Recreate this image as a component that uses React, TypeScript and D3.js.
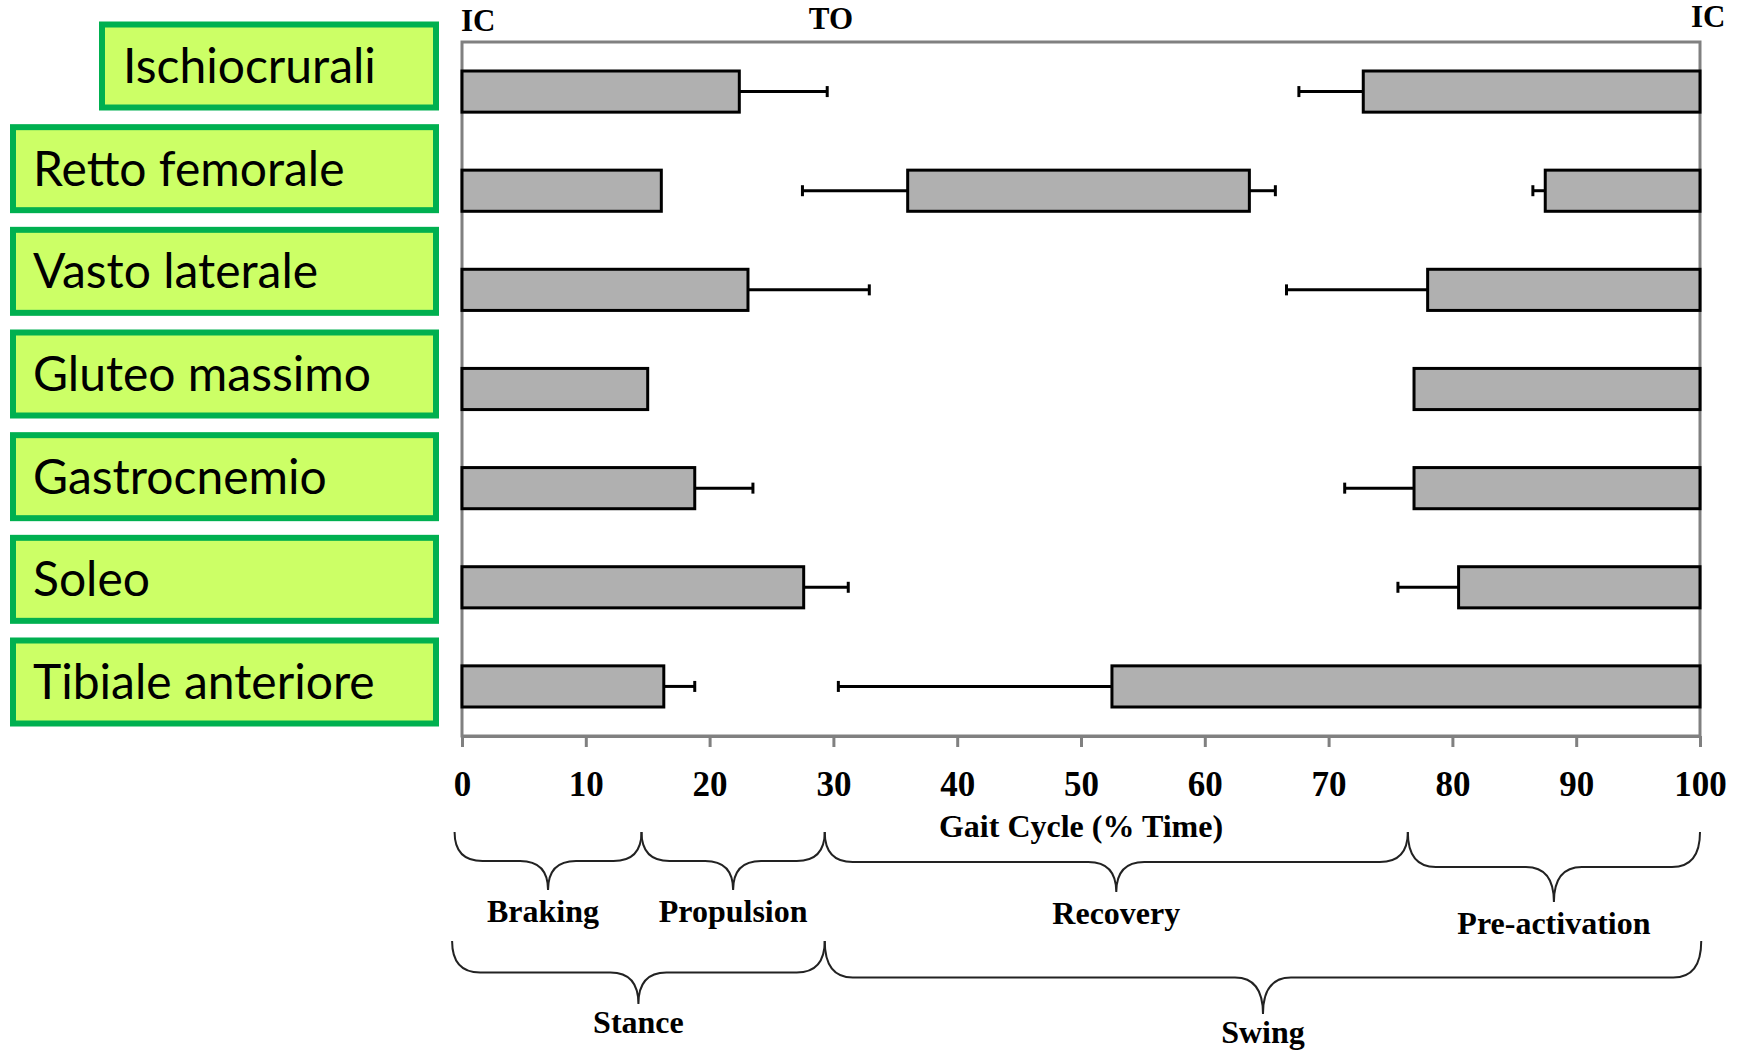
import React, { useEffect, useRef } from "react";
import * as d3 from "d3";

// muscles, top to bottom
const muscles = [
  "Ischiocrurali",
  "Retto femorale",
  "Vasto laterale",
  "Gluteo massimo",
  "Gastrocnemio",
  "Soleo",
  "Tibiale anteriore",
];

// stance burst: from IC (0%) to offset, SD drawn to the right
const earlyOff = [22.4, 16.1, 23.1, 15.0, 18.8, 27.6, 16.3];
const earlyOffSD = [7.1, 0, 9.8, 0, 4.7, 3.6, 2.5];

// late swing burst: from onset to next IC (100%), SD drawn to the left
const lateOn = [72.8, 87.5, 78.0, 76.9, 76.9, 80.5, 52.5];
const lateOnSD = [5.2, 1.0, 11.4, 0, 5.6, 4.9, 22.1];

// extra mid-swing burst of the rectus femoris
const midMuscle = "Retto femorale";
const midOn = 36.0;
const midOnSD = 8.5;
const midOff = 63.6;
const midOffSD = 2.1;

const xTicks = [0, 10, 20, 30, 40, 50, 60, 70, 80, 90, 100];
const toeOff = 29.8;

// braces under the axis
const phaseNames = ["Braking", "Propulsion", "Recovery", "Pre-activation"];
const phaseBounds = [-0.6, 14.5, 29.3, 76.4, 100];
const cycleNames = ["Stance", "Swing"];
const cycleBounds = [-0.8, 29.3, 100.1];

const W = 1742;
const H = 1051;

const serif = "'Liberation Serif', 'Times New Roman', serif";
const GRAY = "#808080";

const App = () => {
  const svgRef = useRef<SVGSVGElement | null>(null);

  useEffect(() => {
    const svg = d3.select(svgRef.current);
    svg.selectAll("*").remove();

    const top = 42;
    const bottom = 736;

    const x = d3.scaleLinear().domain([0, 100]).range([462, 1700]);
    const y = d3
      .scaleBand<string>()
      .domain(muscles)
      .range([top, bottom])
      .paddingInner(0.585)
      .paddingOuter(0.2925);

    // ---- labels in green boxes on the left
    const boxY = d3.scalePoint<string>().domain(muscles).range([66, 682]);
    const boxH = 83;
    const boxRight = 436;
    const boxes = svg
      .append("g")
      .selectAll("g")
      .data(muscles)
      .enter()
      .append("g");

    boxes
      .append("rect")
      .attr("x", (d, i) => (i === 0 ? 102 : 13))
      .attr("y", (d) => boxY(d)! - boxH / 2)
      .attr("width", (d, i) => boxRight - (i === 0 ? 102 : 13))
      .attr("height", boxH)
      .attr("fill", "#ccff66")
      .attr("stroke", "#00b050")
      .attr("stroke-width", 6);

    boxes
      .append("text")
      .attr("x", (d, i) => (i === 0 ? 123 : 33))
      .attr("y", (d) => boxY(d)! + 17)
      .attr("font-family", "Lato, 'Open Sans', sans-serif")
      .attr("font-size", 48)
      .attr("fill", "#000")
      .text((d) => d);

    // ---- frame
    svg
      .append("rect")
      .attr("x", x(0))
      .attr("y", top)
      .attr("width", x(100) - x(0))
      .attr("height", bottom - top)
      .attr("fill", "none")
      .attr("stroke", GRAY)
      .attr("stroke-width", 3);

    // ---- bars
    type Burst = { m: string; a: number; b: number; aSD: number; bSD: number };
    const bursts: Burst[] = [];
    muscles.forEach((m, i) => {
      bursts.push({ m, a: 0, b: earlyOff[i], aSD: 0, bSD: earlyOffSD[i] });
      if (m === midMuscle)
        bursts.push({ m, a: midOn, b: midOff, aSD: midOnSD, bSD: midOffSD });
      bursts.push({ m, a: lateOn[i], b: 100, aSD: lateOnSD[i], bSD: 0 });
    });

    const bh = y.bandwidth();
    const gBars = svg.append("g");

    // error bars (drawn first, bars sit on top)
    const errs: { m: string; from: number; to: number }[] = [];
    bursts.forEach((d) => {
      if (d.aSD > 0) errs.push({ m: d.m, from: d.a, to: d.a - d.aSD });
      if (d.bSD > 0) errs.push({ m: d.m, from: d.b, to: d.b + d.bSD });
    });
    const eg = gBars.selectAll(".err").data(errs).enter().append("g");
    eg.append("line")
      .attr("x1", (d) => x(d.from))
      .attr("x2", (d) => x(d.to))
      .attr("y1", (d) => y(d.m)! + bh / 2)
      .attr("y2", (d) => y(d.m)! + bh / 2)
      .attr("stroke", "#000")
      .attr("stroke-width", 3);
    eg.append("line")
      .attr("x1", (d) => x(d.to))
      .attr("x2", (d) => x(d.to))
      .attr("y1", (d) => y(d.m)! + bh / 2 - 5.5)
      .attr("y2", (d) => y(d.m)! + bh / 2 + 5.5)
      .attr("stroke", "#000")
      .attr("stroke-width", 3);

    gBars
      .selectAll(".bar")
      .data(bursts)
      .enter()
      .append("rect")
      .attr("class", "bar")
      .attr("x", (d) => x(d.a))
      .attr("y", (d) => y(d.m)!)
      .attr("width", (d) => x(d.b) - x(d.a))
      .attr("height", bh)
      .attr("fill", "#b0b0b0")
      .attr("stroke", "#000")
      .attr("stroke-width", 3);

    // ---- x axis
    const axis = svg
      .append("g")
      .attr("transform", `translate(0, ${bottom})`)
      .call(
        d3
          .axisBottom(x)
          .tickValues(xTicks)
          .tickSize(11)
          .tickSizeOuter(0)
          .tickPadding(24)
          .tickFormat(d3.format("d"))
      );
    axis.select(".domain").attr("stroke", GRAY).attr("stroke-width", 3);
    axis.selectAll(".tick line").attr("stroke", GRAY).attr("stroke-width", 3);
    axis
      .selectAll(".tick text")
      .attr("fill", "#000")
      .style("font-family", serif)
      .style("font-weight", "bold")
      .style("font-size", "35px");

    svg
      .append("text")
      .attr("x", x(50))
      .attr("y", 837)
      .attr("text-anchor", "middle")
      .attr("font-family", serif)
      .attr("font-weight", "bold")
      .attr("font-size", 32)
      .text("Gait Cycle (% Time)");

    // ---- IC / TO markers
    const mark = (t: string, v: number, yy: number, anchor: string, dx = 0) =>
      svg
        .append("text")
        .attr("x", x(v) + dx)
        .attr("y", yy)
        .attr("text-anchor", anchor)
        .attr("font-family", serif)
        .attr("font-weight", "bold")
        .attr("font-size", 31)
        .text(t);
    mark("IC", 0, 31, "start", -1);
    mark("TO", toeOff, 29, "middle");
    mark("IC", 100, 27, "start", -9);

    // ---- braces
    const brace = (x0: number, x1: number, yTop: number, dep: number) => {
      const xm = (x0 + x1) / 2;
      const yF = yTop + dep;
      const yT = yTop + 2 * dep;
      const r = Math.min(28, (x1 - x0) / 4);
      const p = d3.path();
      p.moveTo(x0, yTop);
      p.quadraticCurveTo(x0, yF, x0 + r, yF);
      p.lineTo(xm - r, yF);
      p.quadraticCurveTo(xm, yF, xm, yT);
      p.quadraticCurveTo(xm, yF, xm + r, yF);
      p.lineTo(x1 - r, yF);
      p.quadraticCurveTo(x1, yF, x1, yTop);
      return p.toString();
    };

    const phaseDepth = [29, 29, 30, 35];
    const gB = svg.append("g");
    phaseNames.forEach((name, i) => {
      const x0 = x(phaseBounds[i]);
      const x1 = x(phaseBounds[i + 1]);
      const dep = phaseDepth[i];
      gB.append("path")
        .attr("d", brace(x0, x1, 832, dep))
        .attr("fill", "none")
        .attr("stroke", "#222")
        .attr("stroke-width", 2);
      gB.append("text")
        .attr("x", (x0 + x1) / 2 - (i === 0 ? 5 : 0))
        .attr("y", 832 + 2 * dep + 32)
        .attr("text-anchor", "middle")
        .attr("font-family", serif)
        .attr("font-weight", "bold")
        .attr("font-size", 32)
        .text(name);
    });

    const cycleDepth = [31.5, 36.5];
    cycleNames.forEach((name, i) => {
      const x0 = x(cycleBounds[i]);
      const x1 = x(cycleBounds[i + 1]);
      const dep = cycleDepth[i];
      gB.append("path")
        .attr("d", brace(x0, x1, 941, dep))
        .attr("fill", "none")
        .attr("stroke", "#222")
        .attr("stroke-width", 2);
      gB.append("text")
        .attr("x", (x0 + x1) / 2)
        .attr("y", 941 + 2 * dep + 29)
        .attr("text-anchor", "middle")
        .attr("font-family", serif)
        .attr("font-weight", "bold")
        .attr("font-size", 32)
        .text(name);
    });
  }, []);

  return (
    <div style={{ position: "absolute", left: 0, top: 0, background: "#fff" }}>
      <svg ref={svgRef} width={W} height={H} style={{ display: "block" }}></svg>
    </div>
  );
};

export default App;
